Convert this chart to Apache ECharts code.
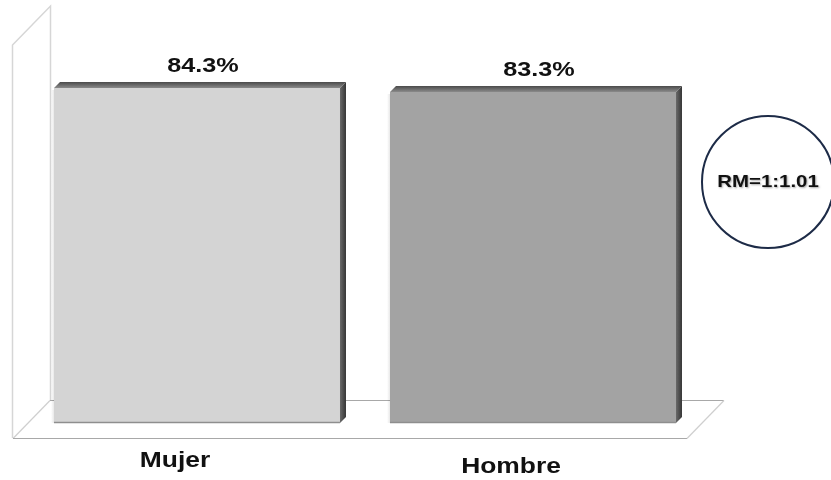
<!DOCTYPE html>
<html>
<head>
<meta charset="utf-8">
<script src="https://cdn.jsdelivr.net/npm/echarts@6/dist/echarts.min.js"></script>
<style>
  html, body { margin: 0; padding: 0; background: #fff; }
  #chart { width: 831px; height: 480px; }
</style>
</head>
<body>
<div id="chart"></div>
<script>
// Share of each group (percent)
const categories = ['Mujer', 'Hombre'];
const percentages = [84.3, 83.3];
const ratioNote = 'RM=1:1.01';

const FONT = '"Liberation Sans", Arial, sans-serif';
const faceColors = ['#d4d4d4', '#a3a3a3'];
const DEPTH = 6;
const STRETCH = 1.2;

const chart = echarts.init(document.getElementById('chart'));

function renderColumn(params, api) {
  const i = api.value(0);
  const v = api.value(1);
  const base = api.coord([i, 0]);
  const top = api.coord([i, v]);
  const band = api.size([1, 0])[0];
  const w = band * 0.869;
  const x0 = base[0] - w / 2;
  const x1 = x0 + w - DEPTH;       // right edge of the front face
  const yT = top[1];
  const yB = base[1];
  const d = DEPTH;

  const children = [
    // soft shade along the left edge
    {
      type: 'rect',
      shape: { x: x0 - 3, y: yT + 2, width: 4, height: yB - yT - 2 },
      style: {
        fill: new echarts.graphic.LinearGradient(0, 0, 1, 0, [
          { offset: 0, color: 'rgba(0,0,0,0)' },
          { offset: 1, color: 'rgba(0,0,0,0.12)' }
        ])
      },
      z2: 1
    },
    // front face
    {
      type: 'rect',
      shape: { x: x0, y: yT, width: x1 - x0, height: yB - yT },
      style: { fill: faceColors[i] },
      z2: 2
    },
    // darker rim along the bottom of the face
    {
      type: 'line',
      shape: { x1: x0, y1: yB - 0.5, x2: x1, y2: yB - 0.5 },
      style: { stroke: '#8e8e8e', lineWidth: 1.5 },
      z2: 3
    },
    // top face
    {
      type: 'polygon',
      shape: { points: [[x0, yT], [x0 + d, yT - d], [x1 + d, yT - d], [x1, yT]] },
      style: {
        fill: new echarts.graphic.LinearGradient(0, 0, 0, 1, [
          { offset: 0, color: '#4a4a4a' },
          { offset: 1, color: '#8a8a8a' }
        ])
      },
      z2: 2
    },
    // side face
    {
      type: 'polygon',
      shape: { points: [[x1, yT], [x1 + d, yT - d], [x1 + d, yB - d], [x1, yB]] },
      style: {
        fill: new echarts.graphic.LinearGradient(0, 0, 1, 0, [
          { offset: 0, color: '#6a6a6a' },
          { offset: 1, color: '#353535' }
        ])
      },
      z2: 2
    },
    // value label
    {
      type: 'text',
      x: base[0] + 3,
      y: yT - 22,
      scaleX: STRETCH,
      style: {
        text: v.toFixed(1) + '%',
        font: 'bold 21px ' + FONT,
        fill: '#111',
        align: 'center',
        verticalAlign: 'middle',
        backgroundColor: '#fff',
        padding: [6, 10, 5, 10]
      },
      z2: 5
    },
    // category name under the floor
    {
      type: 'text',
      x: base[0] - 25,
      y: yB + 38 + i * 6,
      scaleX: STRETCH,
      style: {
        text: categories[i],
        font: 'bold 22px ' + FONT,
        fill: '#111',
        align: 'center',
        verticalAlign: 'middle'
      },
      z2: 5
    }
  ];
  return { type: 'group', children: children };
}

const wallStroke = '#d6d6d6';
const floorStroke = '#a8a8a8';

chart.setOption({
  animation: false,
  backgroundColor: '#fff',
  grid: { left: 32, width: 672, top: 25.6, bottom: 57 },
  xAxis: { type: 'category', data: categories, show: false },
  yAxis: { type: 'value', min: 0, max: 100, show: false },
  graphic: [
    // back wall and side wall outline
    { type: 'polyline', shape: { points: [[12.5, 438], [12.5, 45], [50.5, 6], [50.5, 400]] },
      style: { stroke: wallStroke, lineWidth: 1.5, fill: null }, z: -10 },
    // floor
    { type: 'line', shape: { x1: 13, y1: 438.5, x2: 50, y2: 400.5 },
      style: { stroke: '#cfcfcf', lineWidth: 1.2 }, z: -10 },
    { type: 'line', shape: { x1: 50, y1: 400.5, x2: 724, y2: 400.5 },
      style: { stroke: floorStroke, lineWidth: 1.2 }, z: -10 },
    { type: 'line', shape: { x1: 13, y1: 438.5, x2: 687, y2: 438.5 },
      style: { stroke: floorStroke, lineWidth: 1.2 }, z: -10 },
    { type: 'line', shape: { x1: 687, y1: 438.5, x2: 724, y2: 400.5 },
      style: { stroke: '#cfcfcf', lineWidth: 1.2 }, z: -9 },
    // ratio annotation
    { type: 'circle', shape: { cx: 768, cy: 182, r: 66 },
      style: { fill: '#fff', stroke: '#1d2b47', lineWidth: 2 }, z: 10 },
    { type: 'text', x: 768, y: 182, scaleX: STRETCH, z: 11,
      style: {
        text: ratioNote, font: 'bold 17px ' + FONT, fill: '#111',
        align: 'center', verticalAlign: 'middle',
        textShadowColor: 'rgba(0,0,0,0.35)', textShadowBlur: 2,
        textShadowOffsetX: 1, textShadowOffsetY: 1
      } }
  ],
  series: [{
    type: 'custom',
    renderItem: renderColumn,
    data: percentages.map((v, i) => [i, v]),
    encode: { x: 0, y: 1 },
    z: 2
  }]
});
</script>
</body>
</html>
